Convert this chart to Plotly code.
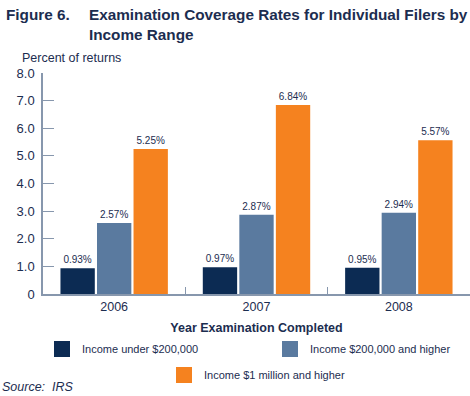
import plotly.graph_objects as go

years = ["2006", "2007", "2008"]
series_names = ["Income under $200,000", "Income $200,000 and higher", "Income $1 million and higher"]
under_200k = [0.93, 0.97, 0.95]
over_200k = [2.57, 2.87, 2.94]
over_1m = [5.25, 6.84, 5.57]
y_tickvals = [0, 1, 2, 3, 4, 5, 6, 7, 8]
y_ticktext = ["0", "1.0", "2.0", "3.0", "4.0", "5.0", "6.0", "7.0", "8.0"]

colors = ["#0c2b53", "#5a7a9f", "#f5821f"]
navy = "#1c2d50"
axis_col = "#8797ad"
FONT = "Liberation Sans, Arial, sans-serif"
W, H = 470, 396
L, T, B = 43, 73, 102
PW, PH = W - L, H - T - B

fig = go.Figure()
legends = ["legend", "legend2", "legend3"]
for name, vals, col, lg in zip(series_names, [under_200k, over_200k, over_1m], colors, legends):
    fig.add_trace(go.Bar(
        x=years, y=vals, name=name, marker=dict(color=col, line=dict(width=0)),
        text=[f"{v:.2f}%" for v in vals], textposition="outside",
        textfont=dict(size=10, color=navy, family=FONT), cliponaxis=False,
        showlegend=False, hoverinfo="skip",
    ))
# legend-only entries (larger key squares), on a hidden pair of axes
for name, col, lg in zip(series_names, colors, legends):
    fig.add_trace(go.Bar(
        x=[None], y=[None], name=name, xaxis="x2", yaxis="y2",
        marker=dict(color=col, line=dict(width=4, color=col)), legend=lg, showlegend=True,
    ))

def leg(px, py):
    return dict(orientation="h", x=px / W, y=1 - py / H, xref="container", yref="container",
                xanchor="left", yanchor="middle",
                font=dict(size=11, color=navy), bgcolor="rgba(0,0,0,0)")

fig.update_layout(
    width=W, height=H,
    margin=dict(l=L, r=0, t=T, b=B, autoexpand=False),
    plot_bgcolor="white", paper_bgcolor="white",
    font=dict(family=FONT, color=navy, size=13),
    barmode="group", bargap=0.23, bargroupgap=0.06,
    showlegend=True,
    legend=leg(42, 349),
    legend2=leg(270, 349),
    legend3=leg(164, 375),
    xaxis=dict(
        type="category", range=[-0.5, 2.5], showline=True, linecolor=axis_col, linewidth=1.5,
        ticks="inside", tickson="boundaries", ticklen=7, tickcolor=axis_col,
        tickfont=dict(size=12.5, color=navy),
        title=dict(text="<b>Year Examination Completed</b>", font=dict(size=12.5, color=navy), standoff=10),
    ),
    yaxis=dict(
        range=[0, 8], tickvals=y_tickvals, ticktext=y_ticktext, showgrid=False, zeroline=False,
        showline=True, linecolor=axis_col, linewidth=1.5, ticks="inside", ticklen=11,
        tickcolor=axis_col, tickfont=dict(size=13, color=navy), ticklabelstandoff=4,
    ),
    xaxis2=dict(visible=False, overlaying="x", domain=[0, 1]),
    yaxis2=dict(visible=False, overlaying="y"),
)

def ann(text, px, py, size, xanchor="left", yanchor="middle"):
    fig.add_annotation(text=text, xref="paper", yref="paper", x=(px - L) / PW, y=(H - B - py) / PH,
                       xanchor=xanchor, yanchor=yanchor, align="left", showarrow=False,
                       font=dict(size=size, color=navy, family=FONT))

ann("<b>Figure 6.</b>", 4, 14, 15.3)
ann("<b>Examination Coverage Rates for Individual Filers by<br>Income Range</b>", 87, 4, 15.3, yanchor="top")
ann("Percent of returns", 20, 58, 12.5)
ann("<i>Source:  IRS</i>", 0, 387, 12.5)

fig.write_html("out.html", config={"displayModeBar": False},
               post_script="document.body.style.margin='0';")
